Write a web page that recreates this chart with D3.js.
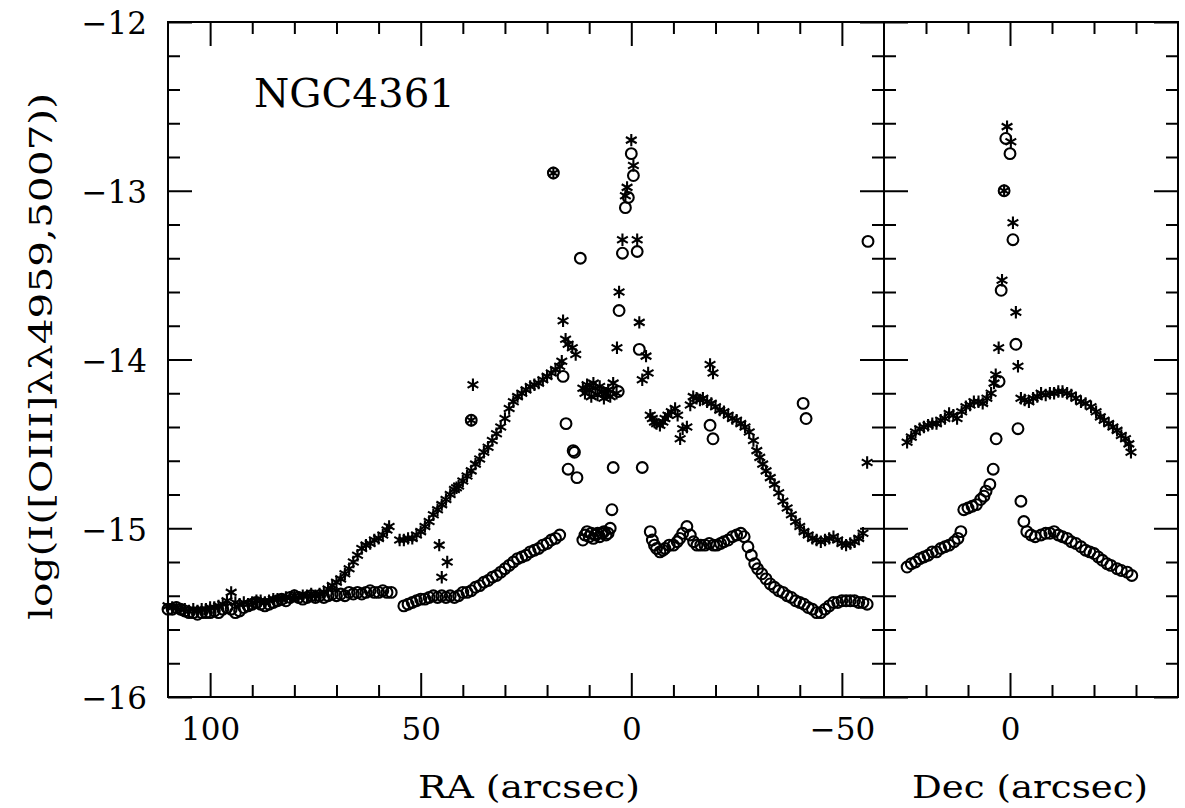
<!DOCTYPE html>
<html><head><meta charset="utf-8">
<script src="https://cdn.jsdelivr.net/npm/d3@7"></script>
<style>body{margin:0;background:#fff}</style>
</head><body>
<svg id="chart" width="1185" height="808"></svg>
<script>
// ---------- data ----------
const raStars = [
 [110,-15.46],[109,-15.47],[108,-15.47],[107,-15.48],[106,-15.48],[105,-15.49],[104,-15.48],[103,-15.49],[102,-15.48],[101,-15.48],
 [100,-15.47],[99,-15.47],[98,-15.46],[97,-15.45],[96,-15.43],[95,-15.38],[94,-15.44],[93,-15.45],[92,-15.44],[91,-15.45],
 [90,-15.44],[89,-15.43],[88,-15.43],[87,-15.44],[86,-15.43],[85,-15.42],[84,-15.42],[83,-15.42],[82,-15.41],[81,-15.41],
 [80,-15.40],[79,-15.41],[78,-15.40],[77,-15.40],[76,-15.39],[75,-15.40],[74,-15.39],[73,-15.38],[72,-15.36],[71,-15.34],
 [70,-15.32],[69,-15.30],[68,-15.27],[67,-15.24],[66,-15.20],[65,-15.16],[64,-15.12],[63,-15.10],[62,-15.09],[61,-15.07],
 [60,-15.06],[59,-15.04],[58,-15.01],[57.5,-14.99],
 [55,-15.07],[54,-15.07],[53,-15.06],[52,-15.06],[51,-15.04],[50,-15.02],[49,-14.99],[48,-14.96],[47,-14.92],[46,-14.89],
 [45,-14.86],[44,-14.83],[43,-14.80],[42,-14.77],[41.5,-14.76],[41,-14.75],[40,-14.72],[39,-14.69],[38,-14.66],[37,-14.62],
 [36,-14.59],[35,-14.55],[34,-14.52],[33,-14.48],[32,-14.44],[31,-14.40],[30,-14.35],[29,-14.29],[28,-14.25],[27,-14.22],
 [26,-14.20],[25,-14.18],[24,-14.16],[23,-14.15],[22,-14.14],[21,-14.12],[20,-14.10],[19,-14.08],[18,-14.06],[17,-14.04],[16.5,-14.01],
 [45.6,-15.10],[43.7,-15.20],[45.0,-15.29],[37.6,-14.15],[38,-14.36],[18.5,-12.895],
 [16.2,-13.77],[15.6,-13.88],[15,-13.91],[14,-13.93],[13.2,-13.97],
 [11.5,-14.17],[11,-14.20],[10.5,-14.15],[10,-14.18],[9.5,-14.22],[9,-14.14],[8.5,-14.17],[8,-14.21],[7.5,-14.16],[7,-14.19],
 [6.5,-14.23],[6,-14.20],[5.5,-14.18],[5,-14.22],[4.3,-14.14],[3.5,-14.20],
 [3.4,-13.93],[2.9,-13.60],[2.1,-13.29],[1.4,-13.03],[1.0,-12.98],[0,-12.70],[-0.5,-12.85],[-1.4,-13.29],[-1.9,-13.78],
 [-3.5,-13.98],[-4.0,-14.08],[-2.6,-14.12],
 [-4.5,-14.33],[-5,-14.35],[-5.5,-14.37],[-6,-14.38],[-6.8,-14.39],[-7.5,-14.37],[-8,-14.35],[-8.7,-14.33],[-9.5,-14.31],[-10.4,-14.29],
 [-11,-14.33],[-11.6,-14.47],[-12.2,-14.41],[-13.2,-14.40],[-14,-14.27],[-14.7,-14.22],[-15.5,-14.23],[-16.3,-14.24],[-17,-14.23],[-18,-14.25],
 [-18.7,-14.03],[-19.4,-14.08],[-19,-14.26],[-20,-14.28],[-21,-14.30],[-22,-14.31],[-23,-14.33],[-24,-14.35],[-25,-14.36],[-26,-14.38],
 [-27,-14.40],[-28,-14.43],[-29,-14.48],[-29.8,-14.54],[-30.5,-14.58],[-31.2,-14.62],[-32,-14.66],[-33,-14.70],[-34,-14.74],[-35,-14.79],
 [-36,-14.84],[-37,-14.88],[-38,-14.92],[-39,-14.96],[-40,-14.99],[-41,-15.02],[-42,-15.04],[-43,-15.06],[-44,-15.07],[-45,-15.08],
 [-46,-15.07],[-47,-15.06],[-48,-15.05],[-49,-15.07],[-50,-15.09],[-51,-15.10],[-52,-15.09],[-53,-15.08],[-54,-15.06],[-55,-15.03],[-56,-14.61]
];
const raCircles = [
 [110,-15.48],[109,-15.48],[108,-15.47],[107,-15.48],[106,-15.49],[105,-15.50],[104,-15.50],[103,-15.51],[102,-15.50],[101,-15.50],
 [100,-15.50],[99,-15.49],[98,-15.50],[97,-15.48],[96,-15.47],[95,-15.48],[94,-15.50],[93,-15.49],[92,-15.47],[91,-15.46],
 [90,-15.45],[89,-15.44],[88,-15.45],[87,-15.46],[86,-15.45],[85,-15.44],[84,-15.43],[83,-15.42],[82,-15.43],[81,-15.41],
 [80,-15.40],[79,-15.41],[78,-15.42],[77,-15.41],[76,-15.40],[75,-15.41],[74,-15.40],[73,-15.41],[72,-15.40],[71,-15.39],
 [70,-15.40],[69,-15.39],[68,-15.40],[67,-15.38],[66,-15.39],[65,-15.38],[64,-15.39],[63,-15.38],[62,-15.37],[61,-15.38],
 [60,-15.38],[59,-15.37],[58,-15.38],[57,-15.38],
 [54,-15.46],[53,-15.45],[52,-15.44],[51,-15.43],[50,-15.42],[49,-15.42],[48,-15.41],[47,-15.40],[46,-15.41],[45,-15.40],
 [44,-15.41],[43,-15.40],[42,-15.41],[41,-15.40],[40,-15.38],[39,-15.38],[38,-15.37],[37,-15.35],[36,-15.34],[35,-15.32],
 [34,-15.31],[33,-15.29],[32,-15.28],[31,-15.26],[30,-15.24],[29,-15.22],[28,-15.20],[27,-15.18],[26,-15.17],[25,-15.16],
 [24,-15.14],[23,-15.13],[22,-15.12],[21,-15.10],[20,-15.09],[19,-15.07],[18,-15.06],[17,-15.04],
 [38,-14.36],[18.5,-12.895],
 [11.5,-15.07],[11,-15.04],[10.5,-15.02],[10,-15.05],[9.5,-15.03],[9,-15.06],[8.5,-15.04],[8,-15.03],[7.5,-15.05],[7,-15.03],
 [6.5,-15.02],[6,-15.04],[5.5,-15.03],[5,-15.00],[4.6,-14.89],
 [16.2,-14.10],[15.5,-14.38],[13.8,-14.54],[13.5,-14.55],[15,-14.65],[12.9,-14.70],[12.1,-13.40],[4.3,-14.64],[-2.6,-14.64],
 [3.1,-14.19],[2.9,-13.71],[2.1,-13.37],[-1.4,-13.36],[-1.9,-13.94],[1.4,-13.10],[0.7,-13.04],[0,-12.78],[-0.5,-12.91],
 [-4.5,-15.02],[-5,-15.07],[-5.5,-15.10],[-6,-15.12],[-6.8,-15.14],[-7.5,-15.13],[-8,-15.12],[-9,-15.10],[-10,-15.10],[-10.9,-15.08],
 [-11.5,-15.06],[-12.2,-15.03],[-13.2,-14.99],[-14,-15.04],[-14.8,-15.08],[-15.6,-15.10],[-16.5,-15.10],[-17.5,-15.10],[-18.5,-15.09],[-19.5,-15.10],
 [-20.3,-15.10],[-21.2,-15.09],[-22,-15.08],[-23,-15.07],[-24,-15.05],[-25,-15.04],[-26,-15.03],[-26.8,-15.05],[-27.7,-15.11],[-28.5,-15.16],
 [-29.3,-15.21],[-30,-15.24],[-31,-15.27],[-32,-15.30],[-33,-15.33],[-34,-15.35],[-35,-15.37],[-36,-15.38],[-37,-15.40],[-38,-15.41],
 [-39,-15.43],[-40,-15.44],[-41,-15.45],[-42,-15.47],[-43,-15.48],[-44,-15.50],[-45,-15.50],[-46,-15.48],[-47,-15.46],[-48,-15.44],
 [-49,-15.44],[-50,-15.43],[-51,-15.43],[-52,-15.43],[-53,-15.43],[-54,-15.44],[-55,-15.44],[-56,-15.45],
 [-18.7,-14.39],[-19.4,-14.47],[-40.8,-14.26],[-41.5,-14.35],[-56.2,-13.30]
];
const decStars = [
 [-24.5,-14.49],[-23.5,-14.46],[-22.5,-14.43],[-21.5,-14.41],[-20.5,-14.40],[-19.5,-14.39],[-18.5,-14.38],[-17.5,-14.38],[-16.5,-14.36],
 [-15.5,-14.35],[-14.5,-14.32],[-13.5,-14.33],[-12.6,-14.35],[-11.5,-14.31],[-10.5,-14.28],[-9.5,-14.27],[-8.6,-14.25],[-7.5,-14.25],
 [-6.5,-14.26],[-5.5,-14.23],[-4.5,-14.20],[-3.8,-14.14],[-3.4,-14.09],[-2.7,-13.93],[-1.9,-13.53],[-1.4,-13.00],[-0.7,-12.62],
 [0.2,-12.71],[0.7,-13.19],[1.4,-13.72],[1.9,-14.04],
 [2.6,-14.23],[3.5,-14.24],[4.5,-14.25],[5.5,-14.23],[6.5,-14.22],[7.4,-14.20],[8.5,-14.21],[9.5,-14.20],[10.5,-14.20],[11.5,-14.19],
 [12.5,-14.19],[13.6,-14.20],[14.6,-14.21],[15.7,-14.23],[16.9,-14.25],[18,-14.26],[19.3,-14.28],[20.5,-14.31],[21.5,-14.34],[22.4,-14.36],
 [23.5,-14.38],[24.5,-14.40],[25.5,-14.42],[26.5,-14.45],[27.5,-14.47],[28.3,-14.50],[28.8,-14.55]
];
const decCircles = [
 [-24.5,-15.23],[-23.5,-15.21],[-22.5,-15.20],[-21.5,-15.18],[-20.5,-15.17],[-19.5,-15.16],[-18.5,-15.14],[-17.5,-15.14],[-16.5,-15.12],
 [-15.5,-15.11],[-14.5,-15.10],[-13.3,-15.08],[-12.4,-15.06],[-11.7,-15.02],[-11,-14.89],[-10,-14.88],[-9,-14.87],[-8,-14.86],
 [-7,-14.83],[-6.2,-14.81],[-5.7,-14.78],[-4.8,-14.74],[-4,-14.65],[-3.3,-14.47],[-2.6,-14.13],[-2.1,-13.59],[-1.4,-13.00],
 [-1,-12.69],[0,-12.78],[0.7,-13.29],[1.4,-13.91],[1.9,-14.41],
 [2.6,-14.84],[3.3,-14.96],[4,-15.02],[5,-15.04],[6,-15.05],[7.4,-15.04],[8.5,-15.03],[9.5,-15.03],[10.5,-15.02],[11.5,-15.04],
 [12.5,-15.05],[13.6,-15.06],[14.6,-15.08],[15.7,-15.09],[16.9,-15.11],[18,-15.13],[19,-15.14],[20,-15.15],[21,-15.17],[22,-15.19],
 [23.1,-15.21],[24,-15.22],[25.5,-15.24],[26.5,-15.25],[27.9,-15.26],[29,-15.28]
];
const raMajorTicks = [100, 50, 0, -50];
const raMinorTicks = [90, 80, 70, 60, 40, 30, 20, 10, -10, -20, -30, -40];
const decMajorTicks = [0];
const decMinorTicks = [-20, -10, 10, 20, 30];
const yMajorTicks = [-12, -13, -14, -15, -16];
const yMinorTicks = [-12.2,-12.4,-12.6,-12.8,-13.2,-13.4,-13.6,-13.8,-14.2,-14.4,-14.6,-14.8,-15.2,-15.4,-15.6,-15.8];
const title = "NGC4361";
const xLabelRA = "RA (arcsec)";
const xLabelDec = "Dec (arcsec)";
const yLabel = "log(I([OIII]λλ4959,5007))";

// ---------- layout ----------
const svg = d3.select("#chart");
const FONT = "DejaVu Serif, Liberation Serif, serif";
const yTop = 22, yBot = 697, xL = 168, xSep = 884, xR = 1178;
const xRA = d3.scaleLinear().domain([110, -60]).range([xL, xSep]);
const xDec = d3.scaleLinear().domain([-30, 40]).range([xSep, xR]);
const y = d3.scaleLinear().domain([-16, -12]).range([yBot, yTop]);
const fmt = d => d3.format("d")(d).replace("-", "\u2212");
const MAJ = 24, MIN = 12;

function styleAxis(g) {
  g.select(".domain").remove();
  g.selectAll(".tick line").attr("stroke", "#000").attr("stroke-width", 2);
  g.selectAll("text").attr("font-family", FONT).attr("font-size", 31).attr("fill", "#000");
}
function xAxes(scale, major, minor) {
  const bm = d3.axisBottom(scale).tickValues(major).tickSize(-MAJ).tickPadding(21).tickFormat(fmt);
  const bn = d3.axisBottom(scale).tickValues(minor).tickSize(-MIN).tickFormat("");
  const tm = d3.axisTop(scale).tickValues(major).tickSize(-MAJ).tickFormat("");
  const tn = d3.axisTop(scale).tickValues(minor).tickSize(-MIN).tickFormat("");
  svg.append("g").attr("transform", `translate(0,${yBot})`).call(bm).call(styleAxis);
  svg.append("g").attr("transform", `translate(0,${yBot})`).call(bn).call(styleAxis);
  svg.append("g").attr("transform", `translate(0,${yTop})`).call(tm).call(styleAxis);
  svg.append("g").attr("transform", `translate(0,${yTop})`).call(tn).call(styleAxis);
}
xAxes(xRA, raMajorTicks, raMinorTicks);
xAxes(xDec, decMajorTicks, decMinorTicks);

// vertical axes: left (labelled), separator (ticks on both sides), right
const yl = d3.axisLeft(y).tickValues(yMajorTicks).tickSize(-MAJ).tickPadding(21).tickFormat(fmt);
svg.append("g").attr("transform", `translate(${xL},0)`).call(yl).call(styleAxis)
  .selectAll("text").attr("dy", "0.38em");
svg.append("g").attr("transform", `translate(${xL},0)`)
  .call(d3.axisLeft(y).tickValues(yMinorTicks).tickSize(-MIN).tickFormat("")).call(styleAxis);
function sideTicks(px, dir) { // dir: +1 ticks go right, -1 ticks go left
  svg.append("g").attr("transform", `translate(${px},0)`)
    .call(d3.axisRight(y).tickValues(yMajorTicks).tickSize(dir * MAJ).tickFormat("")).call(styleAxis);
  svg.append("g").attr("transform", `translate(${px},0)`)
    .call(d3.axisRight(y).tickValues(yMinorTicks).tickSize(dir * MIN).tickFormat("")).call(styleAxis);
}
sideTicks(xSep, -1);
sideTicks(xSep, 1);
sideTicks(xR, -1);

// frames
svg.append("rect").attr("x", xL).attr("y", yTop).attr("width", xR - xL).attr("height", yBot - yTop)
  .attr("fill", "none").attr("stroke", "#000").attr("stroke-width", 2);
svg.append("line").attr("x1", xSep).attr("x2", xSep).attr("y1", yTop).attr("y2", yBot)
  .attr("stroke", "#000").attr("stroke-width", 2);

// markers
const R = 5.4, S = 6.2;
const starPath = [90, 30, -30].map(d => d * Math.PI / 180)
  .map(t => `M${(-S*Math.cos(t)).toFixed(2)},${(-S*Math.sin(t)).toFixed(2)}L${(S*Math.cos(t)).toFixed(2)},${(S*Math.sin(t)).toFixed(2)}`).join("");
function drawCircles(data, xs) {
  svg.append("g").selectAll("circle").data(data).join("circle")
    .attr("cx", d => xs(d[0])).attr("cy", d => y(d[1])).attr("r", R)
    .attr("fill", "none").attr("stroke", "#000").attr("stroke-width", 2.1);
}
function drawStars(data, xs) {
  svg.append("g").selectAll("path").data(data).join("path")
    .attr("transform", d => `translate(${xs(d[0])},${y(d[1])})`).attr("d", starPath)
    .attr("fill", "none").attr("stroke", "#000").attr("stroke-width", 2.1);
}
drawCircles(raCircles, xRA);
drawStars(raStars, xRA);
drawCircles(decCircles, xDec);
drawStars(decStars, xDec);

// texts
svg.append("text").attr("x", 254).attr("y", 107).attr("font-family", FONT).attr("font-size", 40)
  .attr("textLength", 201).attr("lengthAdjust", "spacingAndGlyphs").text(title);
svg.append("text").attr("x", 418).attr("y", 798).attr("font-family", FONT).attr("font-size", 32)
  .attr("textLength", 222).attr("lengthAdjust", "spacingAndGlyphs").text(xLabelRA);
svg.append("text").attr("x", 912).attr("y", 798).attr("font-family", FONT).attr("font-size", 32)
  .attr("textLength", 236).attr("lengthAdjust", "spacingAndGlyphs").text(xLabelDec);
svg.append("text").attr("transform", "translate(52,620) rotate(-90)").attr("font-family", FONT).attr("font-size", 31)
  .attr("textLength", 527).attr("lengthAdjust", "spacingAndGlyphs").text(yLabel);
</script>
</body></html>
